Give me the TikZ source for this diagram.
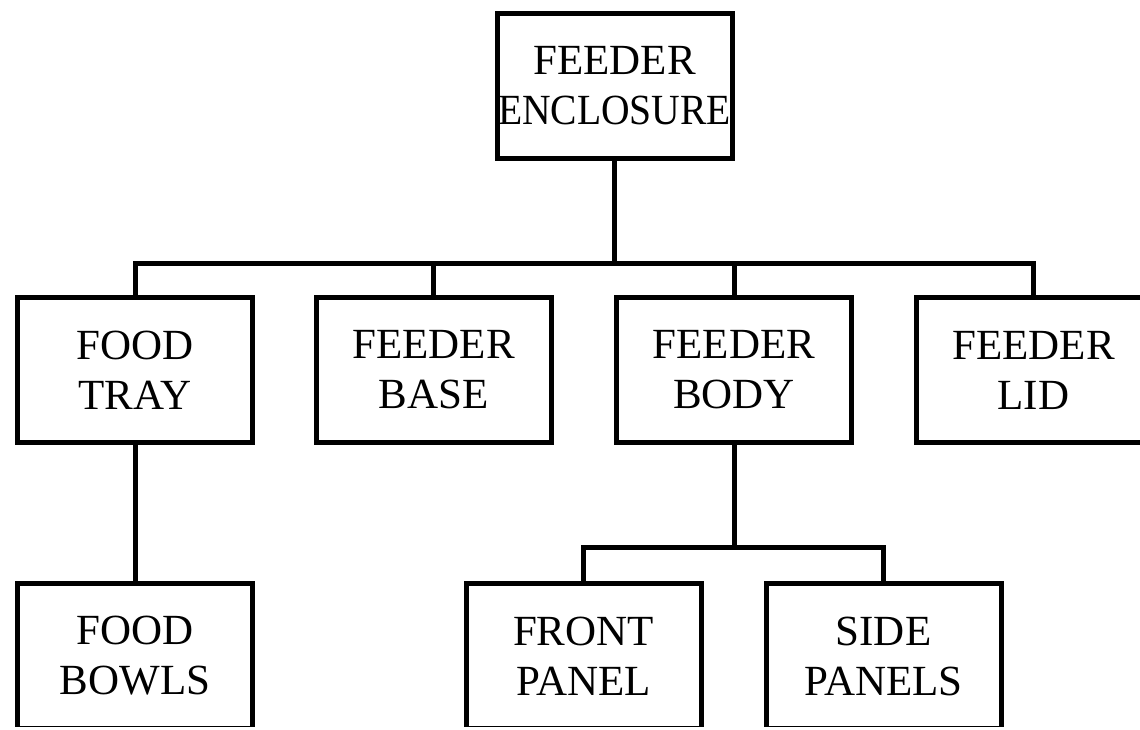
\documentclass[tikz,border=0pt]{standalone}
\usepackage{fontspec}
\usepackage{graphicx}
\setmainfont{Liberation Serif}

\tikzset{
  partbox/.style={draw, line width=5pt, minimum width=235pt, minimum height=145pt,
    inner sep=0pt, align=center, font=\fontsize{43}{50}\selectfont},
  link/.style={line width=5pt, line join=miter}
}

\begin{document}
\begin{tikzpicture}[x=1pt, y=-1pt]
  \useasboundingbox (0,0) rectangle (1140,729);
  \clip (0,0) rectangle (1140,726);

  % top level
  \node[partbox] (enclosure) at (614.5,86) {FEEDER\\\scalebox{0.92}[1]{ENCLOSURE}};

  % second row
  \node[partbox] (tray) at (135,370)    {FOOD\\TRAY};
  \node[partbox] (base) at (433.5,370)  {FEEDER\\BASE};
  \node[partbox] (body) at (734,370)    {FEEDER\\BODY};
  \node[partbox] (lid)  at (1033.5,370) {FEEDER\\LID};

  % third row
  \node[partbox] (bowls) at (135,656)   {FOOD\\BOWLS};
  \node[partbox] (front) at (583.5,656) {FRONT\\PANEL};
  \node[partbox] (side)  at (883.5,656) {SIDE\\PANELS};

  % connectors
  \coordinate (bus) at (0,263);
  \coordinate (subbus) at (0,547);
  \draw[link] (enclosure.south) -- (enclosure.south |- bus);
  \draw[link] (tray.north) -- (tray.north |- bus) -| (lid.north);
  \draw[link] (base.north) -- (base.north |- bus);
  \draw[link] (body.north) -- (body.north |- bus);
  \draw[link] (tray.south) -- (bowls.north);
  \draw[link] (body.south) -- (body.south |- subbus);
  \draw[link] (front.north) -- (front.north |- subbus) -| (side.north);
\end{tikzpicture}
\end{document}
